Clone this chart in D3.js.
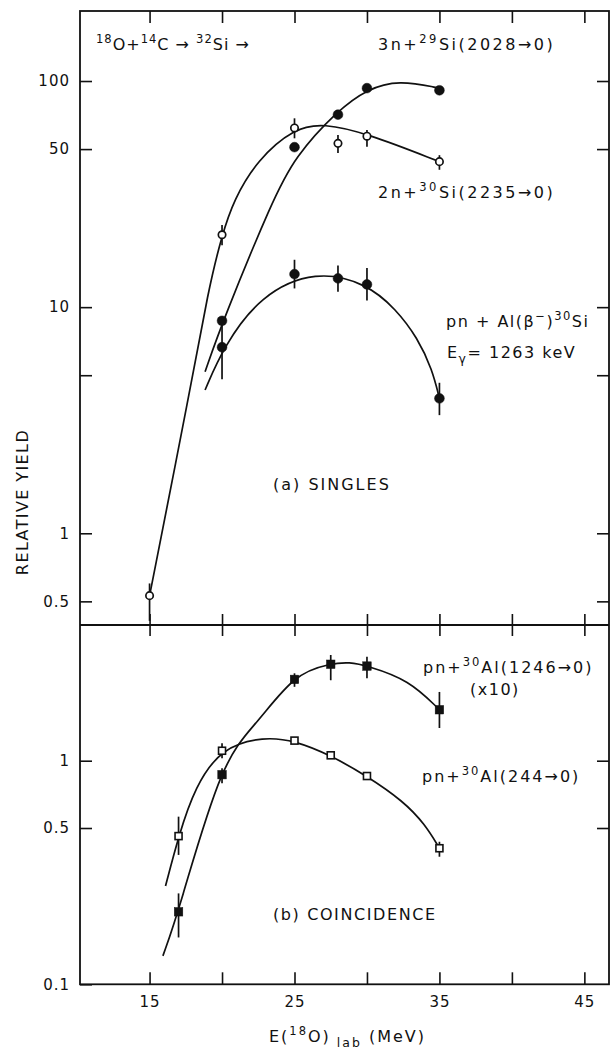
<!DOCTYPE html>
<html>
<head>
<meta charset="utf-8">
<script src="https://cdn.jsdelivr.net/npm/d3@7"></script>
<style>
  body { margin: 0; background: #fff; }
  text { font-family: "DejaVu Sans", sans-serif; fill: #111; }
</style>
</head>
<body>
<div id="plot-container"></div>
<script>
// (a) singles
const e3n = [20, 25, 28, 30, 35];
const y3n = [8.7, 51, 71, 93, 91];

const e2n = [15, 20, 25, 28, 30, 35];
const y2n = [0.53, 20.9, 62, 53, 57, 44];
const err2n = [[0.41, 0.60], [18.8, 23.1], [55.8, 68.4], [48, 57.7], [51.2, 60.7], [40.5, 47]];

const eAl = [20, 25, 28, 30, 35];
const yAl = [6.65, 14.0, 13.4, 12.6, 3.95];
const errAl = [[4.8, 8.5], [12.1, 16.2], [11.7, 15.3], [10.7, 14.9], [3.33, 4.63]];

// (b) coincidence
const eCoin = [17, 20, 25, 27.5, 30, 35];
const y1246 = [0.211, 0.866, 2.31, 2.70, 2.65, 1.69];
const err1246 = [[0.162, 0.255], [0.793, 0.925], [2.14, 2.46], [2.29, 2.97], [2.34, 2.92], [1.40, 2.03]];
const y244 = [0.46, 1.108, 1.23, 1.057, 0.854, 0.406];
const err244 = [[0.379, 0.562], [1.025, 1.196], null, null, null, [0.372, 0.434]];

// control points of the hand-drawn guide curves (energy, yield)
const fit3n = [[18.83, 5.18], [20.05, 8.71], [23.5, 29.8], [25, 46], [28, 74.4], [30, 92], [32.2, 101], [35, 93]];
const fit2n = [[15, 0.53], [17.8, 4.3], [19.05, 11.9], [20, 20.9], [20.81, 29.8], [22.43, 44.8], [25, 62], [27, 65], [30, 58.7], [35, 44]];
const fitAl = [[18.83, 4.3], [20.09, 6.65], [22.62, 11.3], [26.5, 14.6], [30, 12.7], [32, 9.8], [33.5, 7.3], [34.5, 5.3], [35, 3.95]];
const fit1246 = [[15.92, 0.134], [17, 0.211], [20, 1.02], [22.43, 1.47], [25, 2.45], [27.5, 2.72], [28.8, 2.76], [30, 2.66], [32.9, 2.30], [35, 1.69]];
const fit244 = [[16.1, 0.275], [17, 0.46], [18.13, 0.765], [20, 1.15], [22.9, 1.28], [25, 1.23], [27.5, 1.057], [30, 0.854], [32.5, 0.66], [34, 0.52], [35, 0.406]];

// ticks
const xTicks = [15, 20, 25, 30, 35, 40, 45];
const xTickLabels = ["15", "", "25", "", "35", "", "45"];
const topTicks = [0.5, 1, 5, 10, 50, 100];
const topTickLabels = ["0.5", "1", "", "10", "50", "100"];
const botTicks = [0.1, 0.5, 1];
const botTickLabels = ["0.1", "0.5", "1"];

const W = 611, H = 1051;
const frameL = 80, frameR = 609, frameT = 11, frameM = 625, frameB = 984.3;

const svg = d3.select("#plot-container")
  .append("svg")
    .attr("width", W)
    .attr("height", H);

const x = d3.scaleLinear().domain([10.2, 46.7]).range([frameL, frameR]);
const yTop = d3.scaleLog().domain([0.393, 204]).range([frameM, frameT]);
const yBot = d3.scaleLog().domain([0.1, 4.045]).range([frameB, frameM]);

function style_axis(g, labelSize){
    g.attr("font-family", null).attr("font-size", null).attr("color", "#111");
    g.select(".domain").remove();
    g.selectAll("line").attr("stroke-width", 1.6);
    g.selectAll("text").style("font-size", labelSize + "px").style("letter-spacing", "1px");
}

function fmt(values, labels){
    return d => labels[values.indexOf(d)];
}

// left axes, ticks pointing inwards
svg.append("g").attr("transform", `translate(${frameL},0)`)
    .call(d3.axisLeft(yTop).tickValues(topTicks).tickFormat(fmt(topTicks, topTickLabels))
        .tickSizeInner(-12).tickSizeOuter(0).tickPadding(10))
    .call(g => style_axis(g, 15));
svg.append("g").attr("transform", `translate(${frameL},0)`)
    .call(d3.axisLeft(yBot).tickValues(botTicks).tickFormat(fmt(botTicks, botTickLabels))
        .tickSizeInner(-12).tickSizeOuter(0).tickPadding(10))
    .call(g => style_axis(g, 15));

// right axes
svg.append("g").attr("transform", `translate(${frameR},0)`)
    .call(d3.axisLeft(yTop).tickValues(topTicks).tickFormat("").tickSizeInner(12).tickSizeOuter(0))
    .call(g => style_axis(g, 15));
svg.append("g").attr("transform", `translate(${frameR},0)`)
    .call(d3.axisLeft(yBot).tickValues([0.5, 1]).tickFormat("").tickSizeInner(12).tickSizeOuter(0))
    .call(g => style_axis(g, 15));

// top border ticks
svg.append("g").attr("transform", `translate(0,${frameT})`)
    .call(d3.axisBottom(x).tickValues(xTicks).tickFormat("").tickSizeInner(12).tickSizeOuter(0))
    .call(g => style_axis(g, 15));
// divider: ticks crossing the line
svg.append("g").attr("transform", `translate(0,${frameM})`)
    .call(d3.axisBottom(x).tickValues(xTicks).tickFormat("").tickSizeInner(11).tickSizeOuter(0))
    .call(g => style_axis(g, 15));
svg.append("g").attr("transform", `translate(0,${frameM})`)
    .call(d3.axisTop(x).tickValues(xTicks).tickFormat("").tickSizeInner(11).tickSizeOuter(0))
    .call(g => style_axis(g, 15));
// bottom axis with labels
svg.append("g").attr("transform", `translate(0,${frameB})`)
    .call(d3.axisBottom(x).tickValues(xTicks).tickFormat(fmt(xTicks, xTickLabels))
        .tickSizeInner(-12).tickSizeOuter(0).tickPadding(12.3))
    .call(g => style_axis(g, 15));

// frame
svg.append("rect")
    .attr("x", frameL).attr("y", frameT)
    .attr("width", frameR - frameL).attr("height", frameB - frameT)
    .attr("fill", "none").attr("stroke", "#111").attr("stroke-width", 1.8);
svg.append("line")
    .attr("x1", frameL).attr("x2", frameR).attr("y1", frameM).attr("y2", frameM)
    .attr("stroke", "#111").attr("stroke-width", 1.8);

// curves, b-spline over the control points
function draw_curve(pts, yScale){
    const line = d3.line()
        .x(d => x(d[0]))
        .y(d => yScale(d[1]))
        .curve(d3.curveBasis);
    svg.append("path")
        .attr("d", line(pts))
        .attr("fill", "none")
        .attr("stroke", "#111")
        .attr("stroke-width", 1.7);
}
draw_curve(fit3n, yTop);
draw_curve(fit2n, yTop);
draw_curve(fitAl, yTop);
draw_curve(fit1246, yBot);
draw_curve(fit244, yBot);

// error bars
function draw_errors(energies, errs, yScale){
    energies.forEach((e, i) => {
        if (!errs[i]) return;
        svg.append("line")
            .attr("x1", x(e)).attr("x2", x(e))
            .attr("y1", yScale(errs[i][0])).attr("y2", yScale(errs[i][1]))
            .attr("stroke", "#111").attr("stroke-width", 1.7);
    });
}
draw_errors(e2n, err2n, yTop);
draw_errors(eAl, errAl, yTop);
draw_errors(eCoin, err1246, yBot);
draw_errors(eCoin, err244, yBot);

// markers
function draw_points(energies, values, yScale, shape, filled){
    const data = energies.map((e, i) => [e, values[i]]);
    const g = svg.append("g");
    if (shape === "circle") {
        g.selectAll("circle").data(data).enter().append("circle")
            .attr("cx", d => x(d[0]))
            .attr("cy", d => yScale(d[1]))
            .attr("r", filled ? 4.9 : 3.7)
            .attr("fill", filled ? "#111" : "#fff")
            .attr("stroke", "#111")
            .attr("stroke-width", filled ? 0.5 : 1.7);
    } else {
        const s = filled ? 8.5 : 7;
        g.selectAll("rect").data(data).enter().append("rect")
            .attr("x", d => x(d[0]) - s / 2)
            .attr("y", d => yScale(d[1]) - s / 2)
            .attr("width", s).attr("height", s)
            .attr("fill", filled ? "#111" : "#fff")
            .attr("stroke", "#111")
            .attr("stroke-width", filled ? 0.5 : 1.6);
    }
}
draw_points(e3n, y3n, yTop, "circle", true);
draw_points(e2n, y2n, yTop, "circle", false);
draw_points(eAl, yAl, yTop, "circle", true);
draw_points(eCoin, y1246, yBot, "square", true);
draw_points(eCoin, y244, yBot, "square", false);

// text with super/subscripts: parts are [string, "sup"|"sub"|undefined]
function draw_text(px, py, parts, size, spacing, anchor){
    const t = svg.append("text")
        .attr("x", px).attr("y", py)
        .attr("text-anchor", anchor || "start")
        .style("font-size", size + "px")
        .style("letter-spacing", spacing + "px");
    let shift = 0;
    parts.forEach(p => {
        let target = 0, fs = size;
        if (p[1] === "sup") { target = -size * 0.45; fs = size * 0.72; }
        if (p[1] === "sub") { target = size * 0.34; fs = size * 0.78; }
        t.append("tspan")
            .attr("dy", target - shift)
            .style("font-size", fs + "px")
            .text(p[0]);
        shift = target;
    });
    return t;
}

draw_text(96, 50, [["18", "sup"], ["O+"], ["14", "sup"], ["C → "], ["32", "sup"], ["Si →"]], 16, 1);
draw_text(378, 50, [["3n+"], ["29", "sup"], ["Si(2028→0)"]], 16, 2.5);
draw_text(378, 198, [["2n+"], ["30", "sup"], ["Si(2235→0)"]], 16, 2.5);
draw_text(446, 327, [["pn + Al(β"], ["−", "sup"], [")"], ["30", "sup"], ["Si"]], 16, 1.5);
draw_text(447, 358, [["E"], ["γ", "sub"], ["= 1263 keV"]], 16, 1.5);
draw_text(273, 490, [["(a) SINGLES"]], 16, 2);
draw_text(423, 673, [["pn+"], ["30", "sup"], ["Al(1246→0)"]], 16, 2);
draw_text(470, 695, [["(x10)"]], 16, 1.5);
draw_text(422, 782, [["pn+"], ["30", "sup"], ["Al(244→0)"]], 16, 2);
draw_text(273, 920, [["(b) COINCIDENCE"]], 16, 1.6);
draw_text(269, 1042, [["E("], ["18", "sup"], ["O)"], [" lab", "sub"], ["  (MeV)"]], 16, 2);

// y axis title
svg.append("text")
    .attr("transform", "translate(28,502) rotate(-90)")
    .attr("text-anchor", "middle")
    .style("font-size", "16px")
    .style("letter-spacing", "1.4px")
    .text("RELATIVE YIELD");
</script>
</body>
</html>
